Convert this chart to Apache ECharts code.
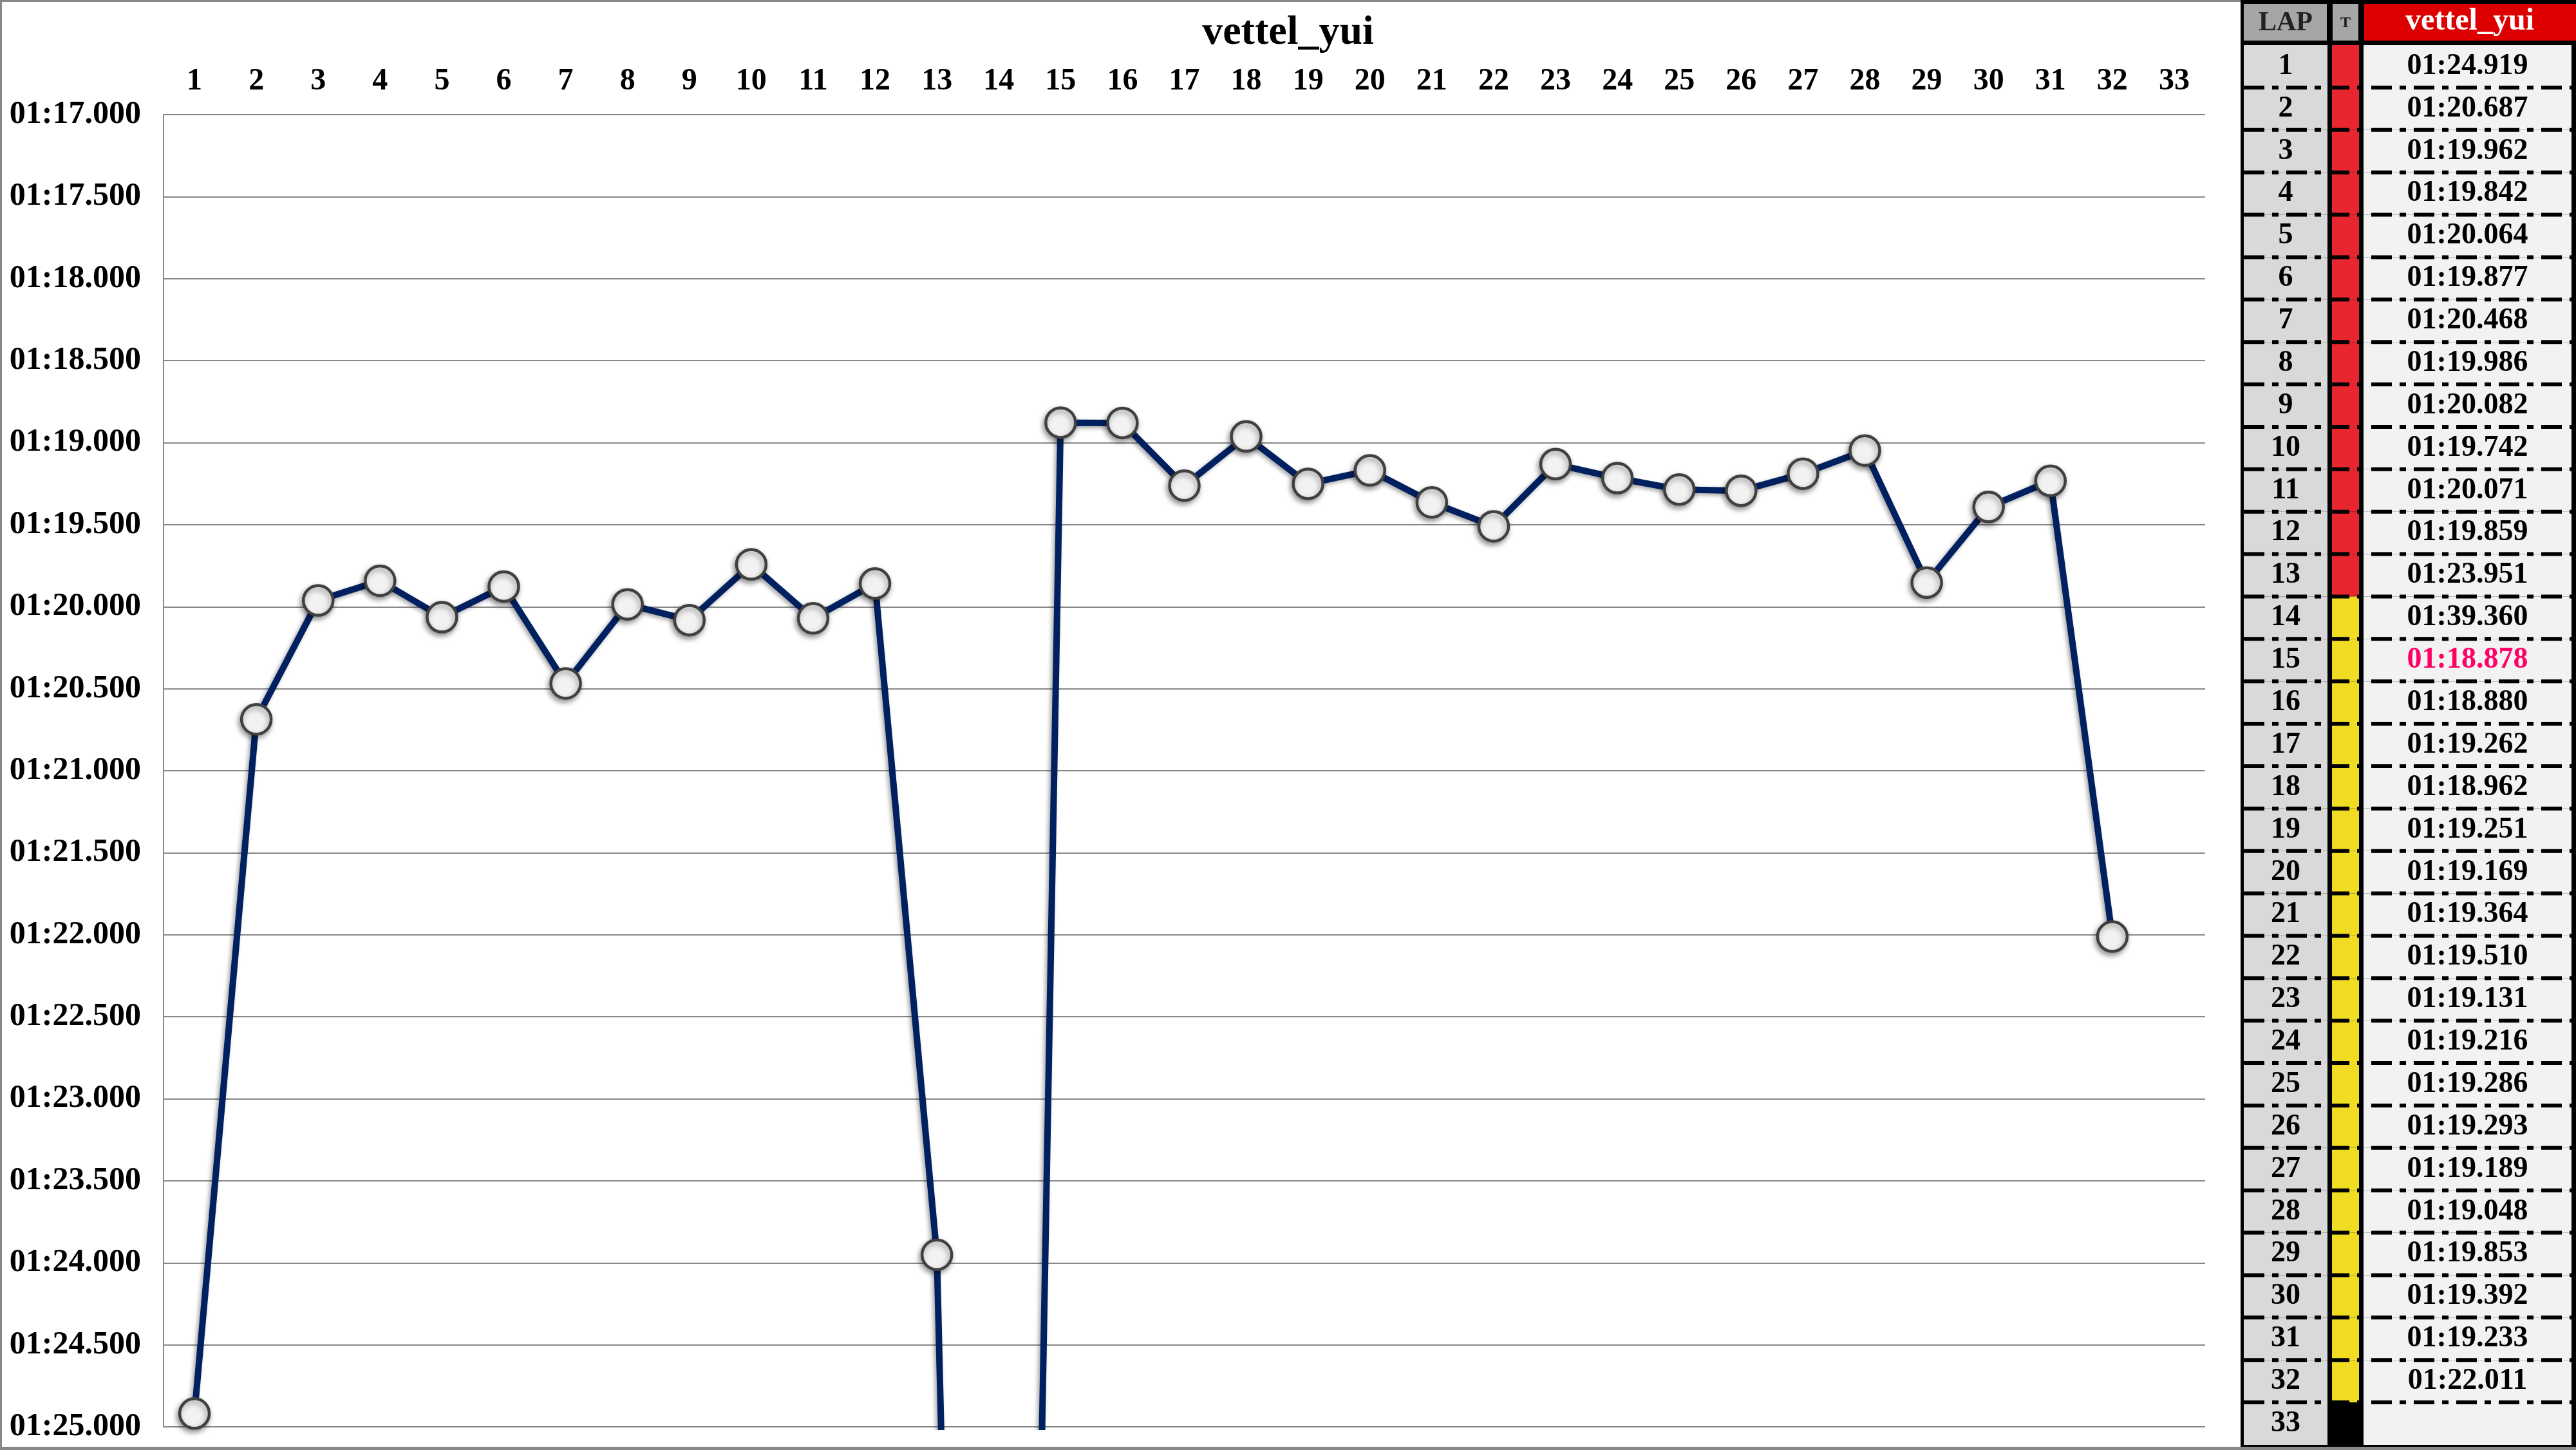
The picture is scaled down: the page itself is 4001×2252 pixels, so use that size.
<!DOCTYPE html>
<html><head><meta charset="utf-8">
<script src="https://cdn.jsdelivr.net/npm/echarts@6/dist/echarts.min.js"></script>
<style>html,body{margin:0;padding:0;background:#fff}#c{width:4001px;height:2252px}</style>
</head><body><div id="c"></div>
<script>
// ---- data ----
const driver = 'vettel_yui';
const laps = ['1','2','3','4','5','6','7','8','9','10','11','12','13','14','15','16','17','18','19','20','21','22','23','24','25','26','27','28','29','30','31','32','33'];
const lapTimes = [84.919, 80.687, 79.962, 79.842, 80.064, 79.877, 80.468, 79.986, 80.082, 79.742,
                  80.071, 79.859, 83.951, 99.360, 78.878, 78.880, 79.262, 78.962, 79.251, 79.169,
                  79.364, 79.510, 79.131, 79.216, 79.286, 79.293, 79.189, 79.048, 79.853, 79.392,
                  79.233, 82.011, null];
const tyres = ['S','S','S','S','S','S','S','S','S','S','S','S','S',
               'M','M','M','M','M','M','M','M','M','M','M','M','M','M','M','M','M','M','M',
               'X'];
const yMin = 77, yMax = 85, yStep = 0.5;
const tableHeaders = ['LAP', 'T', driver];

// ---- helpers ----
const FONT = "'Liberation Serif','Times New Roman',serif";
const tyreColor = {S:'#e8262f', M:'#f0dc22', X:'#000000'};
function fmt(v){
  if (v == null) return '';
  const m = Math.floor(v / 60);
  const s = v - m * 60;
  let ss = s.toFixed(3);
  if (s < 10) ss = '0' + ss;
  return (m < 10 ? '0' : '') + m + ':' + ss;
}
const best = Math.min(...lapTimes.filter(v => v != null));

const chart = echarts.init(document.getElementById('c'));
const option = {
  animation: false,
  backgroundColor: '#ffffff',
  title: {
    text: driver, left: 'center', top: 14,
    textStyle: {fontFamily: FONT, fontWeight: 'bold', fontSize: 64, color: '#000'}
  },
  graphic: [
    {type:'rect', z:-20, shape:{x:1.5, y:1.5, width:3480, height:2249}, style:{fill:'#fff', stroke:'#888', lineWidth:3}},
    {type:'rect', z:-10, shape:{x:3480, y:0, width:521, height:2247}, style:{fill:'#000'}},
    {type:'rect', z:-5, shape:{x:0, y:2247, width:4001, height:5}, style:{fill:'#888'}},
    {type:'rect', z:5, shape:{x:3485, y:6, width:129, height:57}, style:{fill:'#a6a6a6'}},
    {type:'rect', z:5, shape:{x:3623, y:6, width:40, height:57}, style:{fill:'#a6a6a6'}},
    {type:'rect', z:5, shape:{x:3672, y:6, width:329, height:57}, style:{fill:'#dd0000'}},
    {type:'text', z:6, style:{text:tableHeaders[0], x:3550, y:36, align:'center', verticalAlign:'middle', fontFamily:FONT, fontWeight:'bold', fontSize:42, fill:'#222'}},
    {type:'text', z:6, style:{text:tableHeaders[1], x:3643, y:36, align:'center', verticalAlign:'middle', fontFamily:FONT, fontWeight:'bold', fontSize:24, fill:'#222'}},
    {type:'text', z:6, style:{text:tableHeaders[2], x:3836, y:34, align:'center', verticalAlign:'middle', fontFamily:FONT, fontWeight:'bold', fontSize:48, fill:'#fff'}}
  ],
  grid: [
    {left:254, right:576, top:178, bottom:36},
    {left:3485, right:7, top:70, bottom:8}
  ],
  xAxis: [
    {type:'category', data:laps, position:'top', boundaryGap:true,
     axisLine:{show:false}, axisTick:{show:false}, splitLine:{show:false},
     axisLabel:{interval:0, margin:27, fontFamily:FONT, fontWeight:'bold', fontSize:48, color:'#000'}},
    {gridIndex:1, type:'value', min:0, max:1, show:false}
  ],
  yAxis: [
    {type:'value', inverse:true, min:yMin, max:yMax, interval:yStep,
     axisLine:{show:true, lineStyle:{color:'#888', width:2}}, axisTick:{show:false},
     axisLabel:{formatter:fmt, margin:35, fontFamily:FONT, fontWeight:'bold', fontSize:50, color:'#000'},
     splitLine:{show:true, lineStyle:{color:'#888', width:2}}},
    {gridIndex:1, type:'category', data:laps, inverse:true, show:false}
  ],
  series: [
    {
      type:'line', data:lapTimes, xAxisIndex:0, yAxisIndex:0,
      symbol:'circle', symbolSize:46, showAllSymbol:true, connectNulls:false, clip:true,
      lineStyle:{color:'#002060', width:10, shadowColor:'rgba(0,0,0,0.35)', shadowBlur:6, shadowOffsetX:-3, shadowOffsetY:3},
      itemStyle:{color:'#f2f2f2', borderColor:'#404040', borderWidth:4.5, shadowColor:'rgba(0,0,0,0.4)', shadowBlur:8, shadowOffsetX:-2, shadowOffsetY:4},
      z:3
    },
    {
      type:'custom', xAxisIndex:1, yAxisIndex:1,
      data: laps.map((l, i) => [0, i]),
      renderItem: function(params, api){
        const i = api.value(1);
        const cs = params.coordSys;
        const yc = api.coord([0, i])[1];
        const h = api.size([0, 1])[1];
        const y0 = yc - h / 2;
        const X = cs.x, W = cs.width;
        const timeX = X + 186;
        const children = [
          {type:'rect', shape:{x:X, y:y0, width:130, height:h}, style:{fill:'#d9d9d9'}},
          {type:'rect', shape:{x:X+137, y:y0, width:42, height:h}, style:{fill:tyreColor[tyres[i]]}},
          {type:'rect', shape:{x:timeX, y:y0, width:W-186, height:h}, style:{fill:'#f2f2f2'}},
          {type:'text', style:{text:laps[i], x:X+65, y:yc, align:'center', verticalAlign:'middle', fontFamily:FONT, fontWeight:'bold', fontSize:46, fill:'#000'}},
          {type:'text', style:{text:fmt(lapTimes[i]), x:timeX+(W-186)/2, y:yc, align:'center', verticalAlign:'middle', fontFamily:FONT, fontWeight:'bold', fontSize:46,
                               fill:(lapTimes[i] === best ? '#ff0066' : '#000')}}
        ];
        if (i > 0) {
          children.push({type:'line', shape:{x1:X, y1:y0, x2:X+W, y2:y0}, style:{stroke:'#000', lineWidth:6, lineDash:[32,12,10,12]}});
        }
        return {type:'group', children: children};
      },
      z:2
    }
  ]
};
chart.setOption(option);
</script>
</body></html>
